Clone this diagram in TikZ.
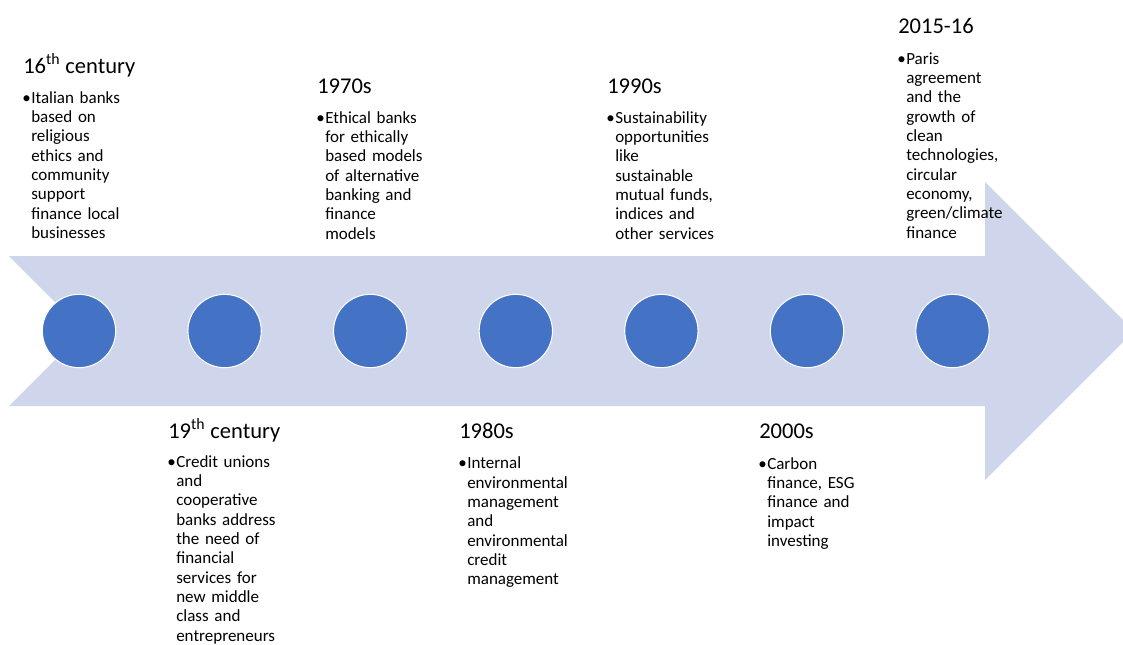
\documentclass[tikz,border=0pt]{standalone}
\usepackage{fontspec}
\setmainfont{Carlito}
\usepackage{xcolor}
\usepackage{tikz}
\usetikzlibrary{positioning}

\definecolor{bandblue}{HTML}{CFD5EA}
\definecolor{dotblue}{HTML}{4472C4}

\begin{document}
\begin{tikzpicture}[x=0.75pt, y=-0.75pt,
    dot/.style={circle, fill=dotblue, draw=white, line width=0.8pt, minimum size=55pt, inner sep=0pt},
    head/.style={anchor=base west, inner sep=0pt, font=\fontsize{16.9pt}{20pt}\selectfont},
    body/.style={anchor=north west, inner sep=0pt, text width=3.2cm, align=left,
                 font=\fontsize{12.75pt}{14.5pt}\selectfont},
    bul/.style={anchor=north east, inner sep=0pt, font=\fontsize{12.75pt}{14.5pt}\selectfont}]
    \useasboundingbox (0,0) rectangle (1123,644);

    % Timeline arrow
    \fill[bandblue] (9,256) -- (985,256) -- (985,182) -- (1134,331) -- (985,480)
        -- (985,406) -- (9,406) -- (84,331) -- cycle;

    % Milestones
    \node[dot] (c1) at (79,331) {};
    \node[dot] (c2) at (224.6,331) {};
    \node[dot] (c3) at (370.2,331) {};
    \node[dot] (c4) at (515.8,331) {};
    \node[dot] (c5) at (661.4,331) {};
    \node[dot] (c6) at (807,331) {};
    \node[dot] (c7) at (952.5,331) {};

    % Above the arrow
    \node[head] (h1) at (23,73) {16\textsuperscript{th} century};
    \node[body] (b1) at (31,89.5) {\strut Italian banks\\based on\\religious\\ethics and\\community\\support\\finance local\\businesses};
    \node[bul] (p1) at (b1.north west) {\strut\textbullet};

    \node[head] (h3) at (317,93) {1970s};
    \node[body] (b3) at (325,109.5) {\strut Ethical banks\\for ethically\\based models\\of alternative\\banking and\\finance\\models};
    \node[bul] (p3) at (b3.north west) {\strut\textbullet};

    \node[head] (h5) at (607,93) {1990s};
    \node[body] (b5) at (615,109.5) {\strut Sustainability\\opportunities\\like\\sustainable\\mutual funds,\\indices and\\other services};
    \node[bul] (p5) at (b5.north west) {\strut\textbullet};

    \node[head] (h7) at (898,33) {2015-16};
    \node[body] (b7) at (906,50.5) {\strut Paris\\agreement\\and the\\growth of\\clean\\technologies,\\circular\\economy,\\green/climate\\finance};
    \node[bul] (p7) at (b7.north west) {\strut\textbullet};

    % Below the arrow
    \node[head] (h2) at (168,438) {19\textsuperscript{th} century};
    \node[body] (b2) at (176,453.5) {\strut Credit unions\\and\\cooperative\\banks address\\the need of\\financial\\services for\\new middle\\class and\\entrepreneurs};
    \node[bul] (p2) at (b2.north west) {\strut\textbullet};

    \node[head] (h4) at (459,438) {1980s};
    \node[body] (b4) at (467,455) {\strut Internal\\environmental\\management\\and\\environmental\\credit\\management};
    \node[bul] (p4) at (b4.north west) {\strut\textbullet};

    \node[head] (h6) at (759,438) {2000s};
    \node[body] (b6) at (767,455.5) {\strut Carbon\\finance, ESG\\finance and\\impact\\investing};
    \node[bul] (p6) at (b6.north west) {\strut\textbullet};
\end{tikzpicture}
\end{document}
